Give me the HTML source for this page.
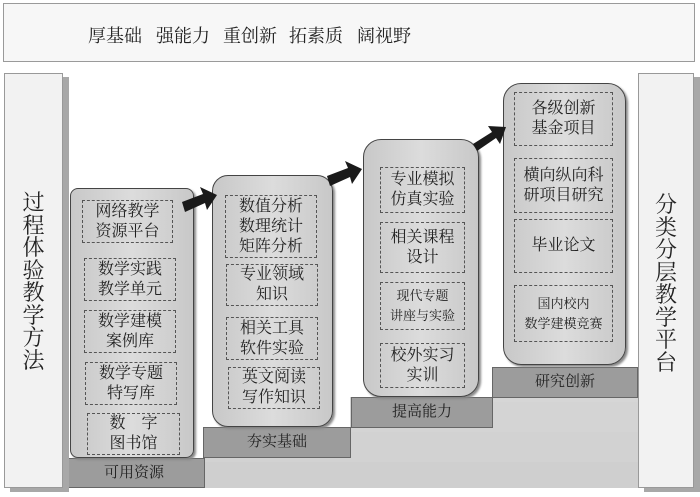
<!DOCTYPE html>
<html><head><meta charset="utf-8"><style>
*{margin:0;padding:0;box-sizing:border-box}
body{width:700px;height:497px;background:#fff;position:relative;overflow:hidden;font-family:"Liberation Serif","Noto Serif CJK SC",serif;color:#222}
.a{position:absolute}
.banner{left:3px;top:3px;width:692px;height:59px;border:1.5px solid #9a9a9a;background:#f7f7f7}
.w{position:absolute;top:18px;font-size:18px}
.pillar{background:#f2f2f2;border:1px solid #999;box-shadow:6px 4px 0 #a8a8a8}
.vt{position:absolute;left:0;width:100%;text-align:center;font-size:22px;line-height:22.5px}
.step{background:#9c9c9c;border:1px solid #666;font-size:15px;text-align:center;line-height:29px}
.rb{background:linear-gradient(90deg,#c8c8c8,#dcdcdc 50%,#c8c8c8);border:1.5px solid #444;box-shadow:2px 2px 2px #888}
.d{position:absolute;border:1px dashed #555;font-size:16px;line-height:20px;text-align:center;display:flex;align-items:center;justify-content:center;white-space:nowrap}
.s{font-size:13px;line-height:20px}
</style></head><body>
<div class="a banner">
<span class="w" style="left:84px">厚基础</span>
<span class="w" style="left:152px">强能力</span>
<span class="w" style="left:219px">重创新</span>
<span class="w" style="left:285px">拓素质</span>
<span class="w" style="left:353px">阔视野</span>
</div>
<div class="a" style="left:63px;top:458px;width:575px;height:30px;background:#cfcfcf"></div>
<div class="a" style="left:203px;top:427px;width:435px;height:35px;background:#d2d2d2"></div>
<div class="a" style="left:350px;top:397px;width:288px;height:35px;background:#d4d4d4"></div>
<div class="a" style="left:492px;top:367px;width:146px;height:35px;background:#d6d6d6"></div>
<div class="a step" style="left:63px;top:458px;width:142px;height:30px">可用资源</div>
<div class="a step" style="left:203px;top:427px;width:148px;height:31px">夯实基础</div>
<div class="a step" style="left:351px;top:397px;width:142px;height:31px">提高能力</div>
<div class="a step" style="left:492px;top:367px;width:146px;height:31px">研究创新</div>
<div class="a pillar" style="left:4px;top:73px;width:59px;height:415px"><div class="vt" style="top:118px">过<br>程<br>体<br>验<br>教<br>学<br>方<br>法</div></div>
<div class="a pillar" style="left:638px;top:73px;width:56px;height:415px"><div class="vt" style="top:120px">分<br>类<br>分<br>层<br>教<br>学<br>平<br>台</div></div>
<div class="a rb" style="left:70px;top:188px;width:124px;height:270px;border-radius:8px"></div>
<div class="a rb" style="left:212px;top:175px;width:121px;height:252px;border-radius:16px"></div>
<div class="a rb" style="left:363px;top:139px;width:116px;height:258px;border-radius:18px"></div>
<div class="a rb" style="left:503px;top:83px;width:123px;height:282px;border-radius:18px"></div>
<div class="d" style="left:82px;top:200px;width:91px;height:43px">网络教学<br>资源平台</div>
<div class="d" style="left:84px;top:258px;width:92px;height:43px">数学实践<br>教学单元</div>
<div class="d" style="left:84px;top:310px;width:92px;height:43px">数学建模<br>案例库</div>
<div class="d" style="left:85px;top:362px;width:92px;height:43px">数学专题<br>特写库</div>
<div class="d" style="left:87px;top:413px;width:93px;height:42px">数　字<br>图书馆</div>
<div class="d" style="left:225px;top:195px;width:92px;height:63px">数值分析<br>数理统计<br>矩阵分析</div>
<div class="d" style="left:226px;top:264px;width:92px;height:42px">专业领域<br>知识</div>
<div class="d" style="left:226px;top:317px;width:92px;height:43px">相关工具<br>软件实验</div>
<div class="d" style="left:228px;top:367px;width:92px;height:42px">英文阅读<br>写作知识</div>
<div class="d" style="left:380px;top:167px;width:85px;height:46px">专业模拟<br>仿真实验</div>
<div class="d" style="left:380px;top:222px;width:85px;height:51px">相关课程<br>设计</div>
<div class="d s" style="left:380px;top:282px;width:85px;height:48px">现代专题<br>讲座与实验</div>
<div class="d" style="left:380px;top:343px;width:85px;height:45px">校外实习<br>实训</div>
<div class="d" style="left:514px;top:92px;width:99px;height:54px">各级创新<br>基金项目</div>
<div class="d" style="left:514px;top:158px;width:99px;height:55px">横向纵向科<br>研项目研究</div>
<div class="d" style="left:514px;top:219px;width:99px;height:54px">毕业论文</div>
<div class="d s" style="left:514px;top:285px;width:99px;height:57px">国内校内<br>数学建模竞赛</div>
<svg class="a" style="left:0;top:0" width="700" height="497">
<g fill="#1a1a1a" stroke="none">
<polygon points="182,202 203,194 200,187 217,195 207,210 205,203 185,212"/>
<polygon points="327,176 348,168 345,161 362,169 352,184 350,177 330,186"/>
<polygon points="473,144 492,132 488,126 506,127 500,144 496,138 477,151"/>
</g>
</svg>
</body></html>
